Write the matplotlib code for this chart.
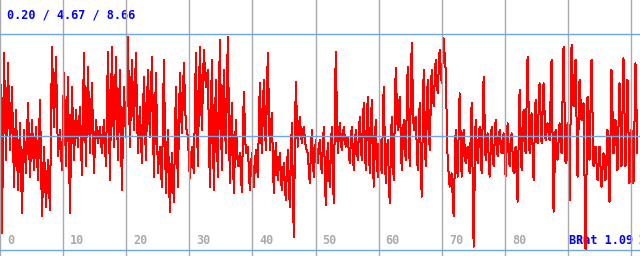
import numpy as np
import matplotlib
matplotlib.use('Agg')
import matplotlib.pyplot as plt
import matplotlib.transforms as mtransforms

# summary values shown on the chart (min / mean / max) and the ratio label
stat_min, stat_mean, stat_max = 0.20, 4.67, 8.66
brat = 1.09
tick_vals = list(range(0, 101, 10))

# upper and lower extremes of the trace, read in short steps left to right
hi = [8.66, 7.91, 7.51, 6.60, 5.69, 5.16, 4.90, 5.95, 5.29, 5.03,
      6.08, 4.25, 3.73, 8.17, 7.77, 4.90, 7.12, 6.99, 6.60, 5.69,
      5.82, 7.91, 7.38, 6.73, 5.29, 5.03, 5.29, 7.97, 8.17, 7.77,
      7.25, 6.60, 8.56, 7.64, 7.91, 5.82, 6.99, 7.25, 7.77, 7.12,
      4.25, 7.64, 4.90, 3.99, 6.60, 7.12, 7.51, 4.64, 4.25, 7.91,
      8.17, 8.04, 7.25, 7.64, 6.86, 8.43, 7.25, 8.56, 5.95, 5.29,
      3.99, 6.40, 4.25, 3.99, 4.12, 6.73, 6.86, 7.91, 5.55, 4.38,
      3.99, 3.60, 4.12, 5.16, 6.79, 5.42, 5.03, 3.99, 4.90, 4.51,
      4.51, 5.03, 4.38, 5.03, 7.97, 5.16, 5.03, 4.64, 5.03, 4.90,
      5.42, 5.95, 6.21, 6.08, 5.29, 4.51, 6.60, 4.51, 5.42, 7.32,
      6.21, 5.29, 7.38, 8.30, 5.42, 5.95, 7.25, 6.86, 7.25, 7.64,
      8.04, 8.49, 3.73, 3.20, 4.90, 6.34, 4.90, 4.25, 5.95, 5.29,
      5.03, 6.99, 4.77, 5.03, 5.29, 4.90, 4.77, 5.16, 4.77, 4.25,
      6.47, 5.69, 7.77, 5.55, 6.08, 6.73, 6.73, 5.16, 7.64, 4.90,
      5.16, 8.17, 5.16, 8.23, 7.64, 6.86, 5.95, 6.21, 7.64, 4.25,
      4.25, 3.99, 4.90, 7.25, 5.29, 6.73, 7.71, 6.86, 4.90, 7.51]
lo = [0.85, 3.73, 4.12, 2.68, 2.55, 1.64, 3.20, 3.07, 3.33, 2.94,
      1.51, 1.90, 1.77, 5.03, 3.86, 3.33, 3.47, 1.64, 3.73, 4.25,
      3.14, 3.47, 3.99, 3.20, 4.38, 3.99, 3.47, 2.94, 4.25, 3.73,
      2.55, 4.64, 4.25, 4.90, 3.99, 3.60, 3.73, 4.64, 3.07, 3.20,
      2.68, 2.42, 1.70, 2.09, 2.68, 4.77, 5.03, 3.01, 3.20, 3.47,
      4.90, 6.60, 2.68, 2.55, 3.07, 3.33, 3.99, 2.81, 2.42, 3.47,
      2.48, 3.99, 2.55, 2.68, 3.07, 3.99, 4.12, 4.12, 2.42, 2.94,
      2.55, 2.16, 1.90, 0.72, 4.25, 4.38, 4.25, 2.81, 3.07, 3.60,
      3.20, 1.96, 2.68, 2.03, 3.99, 4.12, 4.25, 3.60, 3.33, 3.73,
      3.73, 3.33, 3.20, 2.68, 3.07, 3.20, 2.81, 2.03, 2.94, 4.90,
      3.33, 3.73, 3.47, 4.90, 3.33, 2.29, 3.47, 4.12, 5.82, 6.34,
      6.73, 7.25, 2.68, 1.51, 3.07, 3.07, 3.60, 3.20, 0.33, 3.60,
      3.20, 3.73, 3.07, 3.47, 3.86, 3.99, 3.07, 3.47, 3.20, 2.09,
      3.33, 3.99, 3.99, 2.94, 4.38, 4.38, 4.51, 4.51, 1.70, 3.73,
      3.99, 3.60, 2.16, 5.82, 3.07, 5.29, 0.20, 3.73, 3.47, 2.94,
      2.68, 2.94, 2.09, 3.99, 3.33, 3.47, 3.47, 2.81, 2.81, 3.99]

values = np.ravel(np.column_stack([hi, lo]))
x = np.linspace(0, 101, len(values))

fig = plt.figure(figsize=(6.4, 2.56), dpi=100)
ax = fig.add_axes([0, 0, 1, 1])
ax.set_xlim(0, 101.4)
ax.set_ylim(stat_min - 0.235, stat_max + 1.33)
ax.axis('off')

# vertical grid
for t in tick_vals:
    ax.axvline(t, color='#aaaaaa', lw=1, zorder=3)
# min / mean / max lines
for v in (stat_min, stat_mean, stat_max):
    ax.axhline(v, color='#6ea6e8', lw=1, zorder=3)

ax.plot(x, values, color='#ff0000', lw=0.72, antialiased=False, zorder=2)

font = dict(family='DejaVu Sans Mono', fontweight='bold', fontsize=8.5)
trans = mtransforms.blended_transform_factory(ax.transData, ax.transAxes)
for t in tick_vals:
    ax.text(t + 1.1, 0.06, str(t), transform=trans, color='#aaaaaa',
            ha='left', va='center', zorder=1, **font)

ax.text(0.011, 0.94, '%.2f / %.2f / %.2f' % (stat_min, stat_mean, stat_max),
        transform=ax.transAxes, color='#0000ff', ha='left', va='center', zorder=1, **font)
ax.text(0.989, 0.06, 'BRat %.2f' % brat, transform=ax.transAxes, color='#0000ff',
        ha='right', va='center', zorder=1, **font)

fig.savefig('out.png', dpi=100)
